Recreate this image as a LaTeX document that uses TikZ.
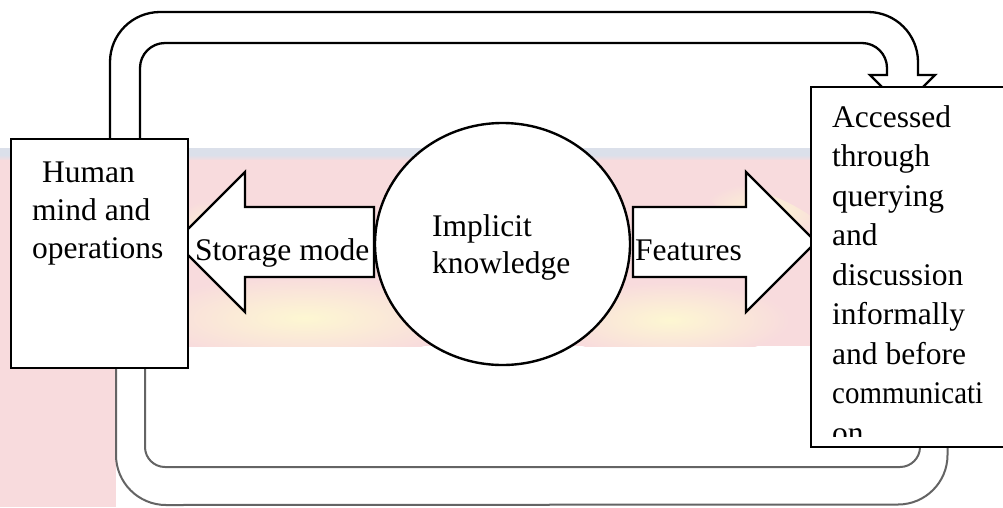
\documentclass[tikz,border=0pt]{standalone}
\usepackage{fontspec}
\setmainfont{Liberation Serif}
\usetikzlibrary{shapes.geometric}

\definecolor{wmpink}{RGB}{248,219,221}
\definecolor{wmblue}{RGB}{219,224,234}
\definecolor{wmyellow}{RGB}{253,247,210}
\definecolor{loopgray}{RGB}{100,100,100}

\begin{document}
\begin{tikzpicture}[x=1pt,y=-1pt,
  boxshape/.style={draw=black, line width=2pt, fill=white, rectangle, inner sep=0pt},
  openbox/.style={fill=white, rectangle, inner sep=0pt},
  boxedge/.style={draw=black, line width=2pt, line join=miter},
  roundshape/.style={draw=black, line width=2.4pt, fill=white, ellipse, inner sep=0pt},
  blockarrow/.style={draw=black, line width=2.4pt, fill=white, line join=miter},
  turnband/.style={draw=black, line width=2.3pt, fill=white},
  backband/.style={draw=loopgray, line width=2pt, fill=white},
  bodytext/.style={font=\fontsize{31.5}{39.5}\selectfont, align=left, inner sep=0pt, anchor=north west},
  arrowtext/.style={font=\fontsize{31.5}{39.5}\selectfont, inner sep=0pt, anchor=base west},
]
\useasboundingbox (0,0) rectangle (1003,507);
\fill[white] (0,0) rectangle (1003,507);

% background bands
\fill[wmblue] (0,148) rectangle (1003,156);
\shade[top color=wmblue, bottom color=wmpink] (0,155) rectangle (1003,161);
\fill[wmpink] (0,160) rectangle (1003,346);
\fill[wmpink] (0,346) rectangle (116,507);
\begin{scope}
  \clip (0,160) rectangle (1003,346);
  \shade[inner color=wmyellow, outer color=wmpink] (305,318) ellipse [x radius=160, y radius=42];
  \shade[inner color=wmyellow, outer color=wmpink] (670,320) ellipse [x radius=120, y radius=38];
  \shade[inner color=wmyellow, outer color=wmpink, rotate around={-22:(765,212)}] (765,212) ellipse [x radius=65, y radius=18];
  \shade[inner color=wmyellow, outer color=wmpink] (205,235) ellipse [x radius=30, y radius=34];
\end{scope}

% U-turn arrow over the top
\draw[turnband] (110,150) -- (110,62) arc[start angle=180,end angle=270,radius=50]
  -- (868,12) arc[start angle=270,end angle=360,radius=50]
  -- (918,75) -- (935,75) -- (902.5,107.5) -- (870,75) -- (887,75)
  -- (887,68) arc[start angle=0,end angle=-90,radius=25]
  -- (165,43) arc[start angle=270,end angle=180,radius=25]
  -- (140,150) -- cycle;

% return band along the bottom
\draw[backband] (116,360) -- (116,455) arc[start angle=180,end angle=90,radius=50]
  -- (898,504.5) arc[start angle=90,end angle=0,radius=49.5]
  -- (947.5,440) -- (920,440)
  -- (920,447) arc[start angle=0,end angle=90,radius=20]
  -- (165,467) arc[start angle=90,end angle=180,radius=20]
  -- (145,360) -- cycle;

% block arrows
\draw[blockarrow] (374,207) -- (245,207) -- (245,172) -- (175,242) -- (245,312) -- (245,277) -- (374,277) -- cycle;
\draw[blockarrow] (633,207) -- (746,207) -- (746,172) -- (816,242) -- (746,312) -- (746,277) -- (633,277) -- cycle;

% main shapes
\node[roundshape, minimum width=255pt, minimum height=242pt] (implicit) at (502.5,244) {};
\node[boxshape, minimum width=177pt, minimum height=229pt] (mind) at (99.5,253.5) {};
% the right box runs on past the right side of the page
\node[openbox, minimum width=240pt, minimum height=360pt] (access) at (931,267) {};
\draw[boxedge] (access.north east) -- (access.north west) -- (access.south west) -- (access.south east);

% texts
\node[bodytext, font=\fontsize{31.5}{38}\selectfont] (mindtext) at (32,161.2) {\hspace{10pt}Human\\mind and\\operations};
\node[bodytext, font=\fontsize{31.5}{37.5}\selectfont] (implicittext) at (432,214.3) {Implicit\\knowledge};
\node[arrowtext] (storagetext) at (195,260) {Storage mode};
\node[arrowtext] (featurestext) at (635,260) {Features};
\begin{scope}
  \clip (811,87) rectangle (1003,436);
  \node[bodytext] (accesstext) at (832,105) {Accessed\\through\\querying\\and\\discussion\\informally\\and before\\\scalebox{0.918}[1]{communicati}\\on};
\end{scope}
\end{tikzpicture}
\end{document}
